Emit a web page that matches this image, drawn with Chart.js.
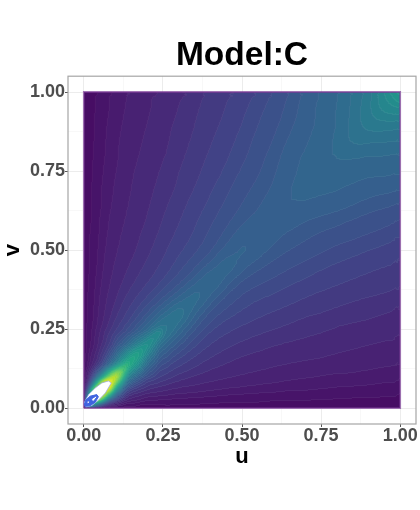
<!DOCTYPE html>
<html>
<head>
<meta charset="utf-8">
<title>Model:C</title>
<script src="https://cdn.jsdelivr.net/npm/chart.js@4"></script>
<style>
  html, body { margin: 0; background: #fff; }
  canvas { display: block; }
</style>
</head>
<body>
<canvas id="densityChart" width="420" height="510"></canvas>
<script>
// Tick positions and labels
const majorTicks = [0, 0.25, 0.5, 0.75, 1];
const minorTicks = [0.125, 0.375, 0.625, 0.875];
const tickLabels = ['0.00', '0.25', '0.50', '0.75', '1.00'];

// Density as a position on the colour bar.
// Surface is symmetric in u and v, so each row k holds v <= u for u = k * step.
const coarseStep = 0.05;
const coarseLevels = [
  [0],
  [0, 1],
  [0, .42, .93],
  [0, .16, .39, .62],
  [0, .12, .25, .385, .52],
  [0, .1, .175, .24, .33, .47],
  [0, .09, .15, .2, .26, .335, .435],
  [0, .085, .135, .17, .21, .255, .31, .395],
  [0, .08, .122, .15, .18, .215, .25, .3, .375],
  [0, .072, .112, .136, .16, .192, .225, .255, .295, .355],
  [0, .068, .104, .126, .148, .178, .207, .228, .256, .295, .335],
  [0, .062, .098, .12, .141, .166, .194, .217, .241, .27, .3, .318],
  [0, .058, .093, .115, .134, .155, .181, .206, .227, .25, .28, .295, .308],
  [0, .055, .088, .11, .129, .148, .171, .195, .217, .238, .262, .283, .3, .314],
  [0, .053, .083, .106, .124, .142, .162, .185, .207, .226, .25, .271, .291, .315, .324],
  [0, .05, .08, .102, .12, .137, .155, .176, .197, .217, .239, .26, .282, .307, .322, .334],
  [0, .048, .076, .098, .115, .131, .149, .168, .188, .209, .228, .25, .273, .3, .318, .33, .35],
  [0, .045, .073, .094, .111, .126, .144, .162, .181, .2, .22, .243, .264, .29, .31, .326, .345, .38],
  [0, .043, .07, .09, .107, .122, .14, .156, .174, .192, .212, .236, .256, .28, .303, .323, .34, .371, .416],
  [0, .04, .067, .086, .103, .118, .135, .151, .168, .185, .204, .226, .247, .272, .298, .321, .34, .369, .41, .462],
  [0, .038, .065, .083, .1, .115, .131, .147, .163, .179, .197, .217, .238, .264, .294, .319, .339, .367, .403, .465, .56]
];

// Closer reading of the peak near the origin
const fineStep = 0.0125;
const fineLevels = [
  [0],
  [0, 1],
  [0, .6, 1],
  [0, .4, .95, 1],
  [0, .3, .8, 1, 1],
  [0, .22, .55, .95, 1, 1],
  [0, .17, .35, .6, .9, 1, 1],
  [0, .12, .26, .45, .68, .95, 1, 1],
  [0, .1, .2, .3, .42, .55, .72, .88, .93],
  [0, .09, .16, .24, .34, .45, .58, .72, .82, .85],
  [0, .07, .13, .19, .25, .33, .42, .53, .64, .72, .75],
  [0, .055, .1, .14, .19, .25, .31, .38, .46, .54, .62, .69],
  [0, .05, .09, .125, .16, .21, .27, .33, .39, .45, .52, .58, .62],
  [0, .05, .085, .115, .15, .19, .24, .295, .35, .41, .47, .52, .57, .6],
  [0, .04, .075, .105, .14, .17, .215, .26, .31, .365, .42, .47, .51, .55, .57],
  [0, .04, .07, .095, .13, .155, .19, .23, .28, .325, .365, .41, .45, .49, .52, .545],
  [0, .03, .06, .085, .12, .145, .17, .2, .25, .28, .31, .345, .385, .42, .46, .49, .52],
  [0, .03, .059, .083, .115, .139, .162, .19, .231, .257, .284, .314, .349, .38, .415, .444, .472, .505],
  [0, .03, .058, .082, .11, .133, .155, .179, .213, .235, .258, .284, .313, .34, .37, .398, .425, .46, .495],
  [0, .03, .056, .08, .105, .126, .148, .169, .194, .212, .232, .253, .276, .3, .325, .352, .378, .41, .445, .48],
  [0, .03, .055, .078, .1, .12, .14, .158, .175, .19, .206, .222, .24, .26, .28, .305, .33, .365, .4, .44, .47]
];

// Outlines around the peak, where the density runs off the colour bar
const coreU = [.006, .002, .015, .036, .057, .078, .087, .068, .046, .025, .006];
const coreV = [.004, .019, .043, .064, .08, .086, .08, .048, .025, .008, .004];
const ringU = [.004, .002, .006, .02, .041, .046, .036, .02, .004];
const ringV = [.006, .012, .025, .038, .043, .036, .019, .008, .006];
const holeU = [.023, .025, .038, .041, .031, .023];
const holeV = [.024, .03, .038, .035, .022, .024];
const dotU = [.011, .012, .017, .016, .011];
const dotV = [.016, .021, .021, .017, .016];
const edgeU = [0, 1, 1, 0, 0];
const edgeV = [0, 0, 1, 1, 0];

const viridisStops = ['#470a62', '#482475', '#414487', '#355f8d', '#2a788e', '#21918c',
  '#22a884', '#44bf70', '#7ad151', '#bddf26', '#fde725'];
const bandWidth = 0.026;

function hexToRgb(hex) {
  return [1, 3, 5].map(p => parseInt(hex.slice(p, p + 2), 16));
}

function bandColour(band) {
  const t = Math.min(0.9999, (band + 0.5) * bandWidth) * (viridisStops.length - 1);
  const i = Math.floor(t);
  const a = hexToRgb(viridisStops[i]);
  const b = hexToRgb(viridisStops[i + 1]);
  return a.map((c, n) => c + (b[n] - c) * (t - i));
}

// Put one triangular table into a grey image, mirrored over the diagonal
function levelImage(rows) {
  const n = rows.length;
  const img = document.createElement('canvas');
  img.width = n;
  img.height = n;
  const g = img.getContext('2d');
  const pix = g.createImageData(n, n);
  for (let i = 0; i < n; i++) {
    for (let j = 0; j < n; j++) {
      const level = i >= j ? rows[i][j] : rows[j][i];
      const at = ((n - 1 - j) * n + i) * 4;
      pix.data[at] = pix.data[at + 1] = pix.data[at + 2] = Math.round(level * 255);
      pix.data[at + 3] = 255;
    }
  }
  g.putImageData(pix, 0, 0);
  return img;
}

const densityPlugin = {
  id: 'density',
  beforeDatasetsDraw(chart) {
    const x = chart.scales.x;
    const y = chart.scales.y;
    const left = x.getPixelForValue(0);
    const top = y.getPixelForValue(1);
    const w = Math.round(x.getPixelForValue(1) - left);
    const h = Math.round(y.getPixelForValue(0) - top);

    const grey = document.createElement('canvas');
    grey.width = w;
    grey.height = h;
    const g = grey.getContext('2d', { willReadFrequently: true });
    g.imageSmoothingEnabled = true;

    const drawLayer = (rows, step, filter) => {
      const span = (rows.length - 1) * step;
      const cellW = w * step;
      const cellH = h * step;
      g.save();
      g.beginPath();
      g.rect(0, h - span * h, span * w, span * h);
      g.clip();
      g.filter = filter;
      g.drawImage(levelImage(rows), -cellW / 2, h - span * h - cellH / 2,
        rows.length * cellW, rows.length * cellH);
      g.restore();
    };
    // Soften the corners the table spacing would leave in the contours
    drawLayer(coarseLevels, coarseStep, 'none');
    drawLayer(coarseLevels, coarseStep, 'blur(7px)');
    drawLayer(fineLevels, fineStep, 'none');
    g.filter = 'blur(2px)';
    g.drawImage(grey, 0, 0);
    g.filter = 'none';

    // Turn the smooth levels into filled contour bands
    const src = g.getImageData(0, 0, w, h).data;
    const out = document.createElement('canvas');
    out.width = w;
    out.height = h;
    const o = out.getContext('2d');
    const pix = o.createImageData(w, h);
    const bandAt = i => Math.floor(src[i * 4] / 255 / bandWidth);
    for (let i = 0; i < w * h; i++) {
      const band = bandAt(i);
      const seam = (i % w < w - 1 && bandAt(i + 1) !== band) || (i + w < w * h && bandAt(i + w) !== band);
      const c = bandColour(band);
      pix.data[i * 4] = seam ? c[0] + (255 - c[0]) * 0.05 : c[0];
      pix.data[i * 4 + 1] = seam ? c[1] + (255 - c[1]) * 0.05 : c[1];
      pix.data[i * 4 + 2] = seam ? c[2] + (255 - c[2]) * 0.05 : c[2];
      pix.data[i * 4 + 3] = 255;
    }
    o.putImageData(pix, 0, 0);
    chart.ctx.drawImage(out, left, top);
  },
  afterDatasetsDraw(chart) {
    const a = chart.chartArea;
    const ctx = chart.ctx;
    ctx.save();
    ctx.strokeStyle = '#a6a6a6';
    ctx.lineWidth = 1.2;
    ctx.strokeRect(a.left, a.top, a.right - a.left, a.bottom - a.top);
    ctx.restore();
  }
};

function outline(us, vs, extra) {
  return Object.assign({
    data: us.map((u, i) => ({ x: u, y: vs[i] })),
    showLine: true,
    pointRadius: 0,
    tension: 0
  }, extra);
}

function axisOptions(title, tickPadding, extraTitle, fit) {
  return {
    type: 'linear',
    min: -0.05,
    max: 1.05,
    afterBuildTicks(scale) {
      scale.ticks = majorTicks.concat(minorTicks).sort((a, b) => a - b).map(v => ({ value: v }));
    },
    afterFit: fit,
    border: { display: false },
    grid: {
      color: c => majorTicks.includes(c.tick.value) ? '#ececec' : '#f3f3f3',
      lineWidth: c => majorTicks.includes(c.tick.value) ? 1 : 0.6,
      tickColor: c => majorTicks.includes(c.tick.value) ? '#555555' : 'rgba(0,0,0,0)',
      tickLength: 3
    },
    ticks: {
      autoSkip: false,
      maxRotation: 0,
      color: '#4d4d4d',
      padding: tickPadding,
      font: { family: 'Liberation Sans', size: 18, weight: 'bold' },
      callback: value => tickLabels[majorTicks.indexOf(value)] || ''
    },
    title: Object.assign({
      display: true,
      text: title,
      color: '#000000',
      font: { family: 'Liberation Sans', size: 22, weight: 'bold' }
    }, extraTitle)
  };
}

new Chart(document.getElementById('densityChart'), {
  type: 'scatter',
  data: {
    datasets: [
      outline(dotU, dotV, { fill: 'shape', backgroundColor: '#ffffff', borderColor: '#ffffff', borderWidth: 0 }),
      outline(holeU, holeV, { fill: 'shape', backgroundColor: '#ffffff', borderColor: '#3f63e0', borderWidth: 1 }),
      outline(ringU, ringV, { fill: 'shape', backgroundColor: '#3f63e0', borderColor: '#3f63e0', borderWidth: 1 }),
      outline(coreU, coreV, { fill: 'shape', backgroundColor: '#ffffff', borderColor: '#8fa6ee', borderWidth: 0.7 }),
      outline(edgeU, edgeV, { fill: false, borderColor: 'rgba(122, 58, 150, 0.7)', borderWidth: 1.8 })
    ]
  },
  options: {
    responsive: false,
    animation: false,
    layout: { padding: { left: 0, right: 4, top: 0, bottom: 40 } },
    plugins: {
      legend: { display: false },
      tooltip: { enabled: false },
      title: {
        display: true,
        fullSize: false,
        text: 'Model:C',
        color: '#000000',
        font: { family: 'Liberation Sans', size: 33.5, weight: 'bold' },
        padding: { top: 36, bottom: 0 }
      }
    },
    scales: {
      x: axisOptions('u', -2, { padding: { top: 0, bottom: 0 } }, scale => { scale.height = 46; }),
      y: axisOptions('v', 0, { padding: { top: 0, bottom: 2 } }, scale => { scale.width = 68; })
    }
  },
  plugins: [densityPlugin]
});
</script>
</body>
</html>
